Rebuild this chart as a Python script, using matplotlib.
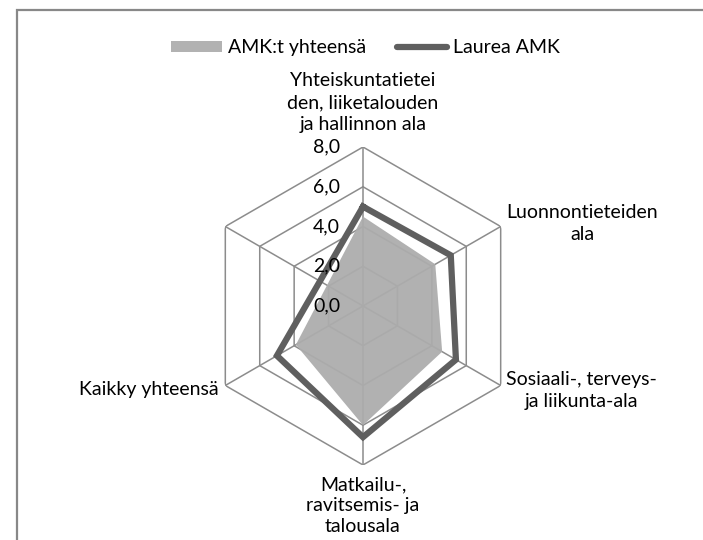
import numpy as np
import matplotlib
matplotlib.use("Agg")
import matplotlib.pyplot as plt
from matplotlib.patches import Patch, Rectangle
from matplotlib.lines import Line2D

plt.rcParams['font.family'] = ['Lato', 'DejaVu Sans']

categories = [
    "Yhteiskuntatietei\nden, liiketalouden\nja hallinnon ala",
    "Luonnontieteiden\nala",
    "Sosiaali-, terveys-\nja liikunta-ala",
    "Matkailu-,\nravitsemis- ja\ntalousala",
    "Kaikky yhteensä",
    "",
]
amk_total = [4.5, 4.2, 4.6, 6.0, 3.9, np.nan]
laurea = [5.0, 5.1, 5.4, 6.6, 5.0, np.nan]
rings = [0, 2, 4, 6, 8]
ring_labels = ["0,0", "2,0", "4,0", "6,0", "8,0"]
series_names = ["AMK:t yhteensä", "Laurea AMK"]

grid_col = "#8c8c8c"
fill_col = "#acacac"
line_col = "#5f5f5f"
fs = 14

n = len(categories)
theta = np.arange(n) * 2 * np.pi / n

fig = plt.figure(figsize=(7.03, 5.40), dpi=100)
ax = fig.add_axes([0.2902, 0.1389, 0.4523, 0.5889], projection="polar")
ax.set_theta_offset(np.pi / 2)
ax.set_theta_direction(-1)
ax.set_ylim(0, 8)
ax.grid(False)
ax.spines["polar"].set_visible(False)
ax.set_xticks([])
ax.set_yticks([])
ax.patch.set_alpha(0)

# hexagon grid
closed = np.append(theta, theta[0])
for r in rings[1:]:
    ax.plot(closed, [r] * len(closed), color=grid_col, lw=1.1, zorder=1)
for t in theta:
    ax.plot([t, t], [0, rings[-1]], color=grid_col, lw=1.1, zorder=1)


def valid(vals):
    v = np.array(vals, dtype=float)
    m = ~np.isnan(v)
    t = theta[m]
    v = v[m]
    return np.append(t, t[0]), np.append(v, v[0])


t1, v1 = valid(amk_total)
ax.fill(t1, v1, color=fill_col, alpha=0.94, lw=0, zorder=2)
t2, v2 = valid(laurea)
ax.plot(t2, v2, color=line_col, lw=4.5, solid_joinstyle="miter", zorder=4)

# radial labels
for r, lab in zip(rings, ring_labels):
    ax.annotate(lab, xy=(0, r), xytext=(-16.5, 0), textcoords="offset points",
                ha="right", va="center", fontsize=fs, color="black", zorder=5)

# category labels
label_pos = [
    dict(xytext=(0, 10), ha="center", va="bottom", linespacing=1.36),
    dict(xytext=(4, 2), ha="left", va="center", linespacing=1.36),
    dict(xytext=(4, -3.5), ha="left", va="center", linespacing=1.36),
    dict(xytext=(0, -8), ha="center", va="top", linespacing=1.28),
    dict(xytext=(-5, -3), ha="right", va="center", linespacing=1.36),
    dict(xytext=(-5, 0), ha="right", va="center", linespacing=1.36),
]
for t, lab, kw in zip(theta, categories, label_pos):
    if lab:
        ax.annotate(lab, xy=(t, rings[-1]), textcoords="offset points",
                    fontsize=fs, multialignment="center", **kw)

handles = [Patch(facecolor="#b2b2b2", edgecolor="none"),
           Line2D([0], [0], color=line_col, lw=4.5, solid_capstyle="round")]
fig.legend(handles, series_names, loc="center", bbox_to_anchor=(0.52, 0.912),
           ncol=2, frameon=False, fontsize=fs, handlelength=2.6, handleheight=0.5,
           handletextpad=0.3, columnspacing=1.6)

# chart border (right and bottom edges fall outside the picture)
fig.patches.append(Rectangle((17 / 703, -0.1), 1.2, 1.1 - 10 / 540,
                             transform=fig.transFigure, fill=False,
                             edgecolor="#888888", lw=1.6))

fig.savefig("out.png", dpi=100)
